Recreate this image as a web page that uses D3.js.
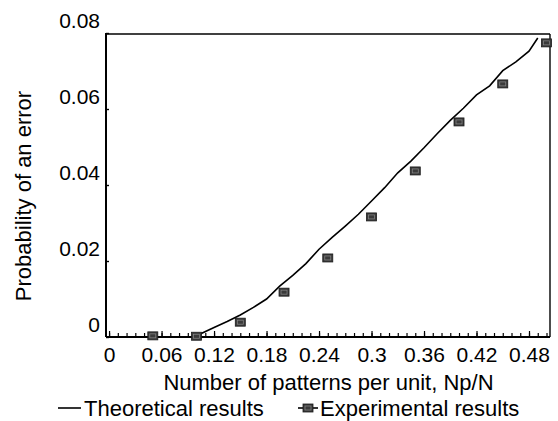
<!DOCTYPE html>
<html>
<head>
<meta charset="utf-8">
<script src="https://cdn.jsdelivr.net/npm/d3@7"></script>
<style>
  html, body { margin: 0; padding: 0; background: #fff; }
  svg { display: block; font-family: "Liberation Sans", Arial, Helvetica, sans-serif; }
</style>
</head>
<body>
<svg id="chart" width="558" height="421"></svg>
<script>
// Theoretical curve (probability of an error vs. Np/N)
const theoryX = [0, 0.05, 0.1, 0.106, 0.12, 0.135, 0.15, 0.165, 0.18, 0.195, 0.21, 0.225, 0.24, 0.255,
  0.27, 0.285, 0.3, 0.315, 0.33, 0.345, 0.36, 0.375, 0.39, 0.405, 0.42, 0.435, 0.45, 0.465, 0.48, 0.49];
const theoryY = [0, 0, 0, 0.0010, 0.0025, 0.0041, 0.0058, 0.0078, 0.0100, 0.0134, 0.0162, 0.0193, 0.0231, 0.0262,
  0.0292, 0.0323, 0.0358, 0.0393, 0.0432, 0.0463, 0.0498, 0.0535, 0.0570, 0.0602, 0.0637, 0.0661, 0.0701, 0.0724, 0.0752, 0.0787];

// Experimental measurements
const expX = [0.05, 0.1, 0.15, 0.2, 0.25, 0.3, 0.35, 0.4, 0.45, 0.5];
const expY = [0.0003, 0.0002, 0.0039, 0.0118, 0.0208, 0.0316, 0.0437, 0.0566, 0.0666, 0.0774];

// Axis ticks
const xTickValues = [0, 0.06, 0.12, 0.18, 0.24, 0.3, 0.36, 0.42, 0.48];
const xTickLabels = ["0", "0.06", "0.12", "0.18", "0.24", "0.3", "0.36", "0.42", "0.48"];
const yTickValues = [0, 0.02, 0.04, 0.06, 0.08];
const yTickLabels = ["0", "0.02", "0.04", "0.06", "0.08"];

const svg = d3.select("#chart");
const plotLeft = 106, plotRight = 550, plotTop = 33, plotBottom = 337;

const x = d3.scaleLinear().domain([-0.0035, 0.504]).range([plotLeft, plotRight]);
const y = d3.scaleLinear().domain([0, 0.08]).range([plotBottom, plotTop]);

// Frame: thinner top and right edges
svg.append("line").attr("x1", plotLeft).attr("x2", plotRight).attr("y1", plotTop + 1).attr("y2", plotTop + 1)
  .attr("stroke", "#000").attr("stroke-width", 1.4);
svg.append("line").attr("x1", plotRight).attr("x2", plotRight).attr("y1", plotTop + 1).attr("y2", plotBottom)
  .attr("stroke", "#000").attr("stroke-width", 1.4);

// Minor x ticks every 0.01, pointing inward
const minorX = d3.range(0, 51).map(i => i / 100);
const gMinor = svg.append("g").attr("transform", `translate(0,${plotBottom})`)
  .call(d3.axisBottom(x).tickValues(minorX).tickSize(-4).tickFormat(""));
gMinor.select(".domain").remove();
gMinor.selectAll(".tick line").attr("stroke", "#000").attr("stroke-width", 1.2);

// Major x ticks with labels
const gx = svg.append("g").attr("transform", `translate(0,${plotBottom})`)
  .call(d3.axisBottom(x).tickValues(xTickValues).tickSize(-6).tickPadding(10)
    .tickFormat((d, i) => xTickLabels[i]));
gx.select(".domain").attr("d", `M${plotLeft},0H${plotRight}`).attr("stroke", "#000").attr("stroke-width", 2);
gx.selectAll(".tick line").attr("stroke", "#000").attr("stroke-width", 1.2);
gx.selectAll(".tick text").attr("font-size", 21).attr("fill", "#000")
  .attr("font-family", "'Liberation Sans', Arial, sans-serif");

// y axis (labels sit slightly above their ticks)
const gy = svg.append("g").attr("transform", `translate(${plotLeft},0)`)
  .call(d3.axisLeft(y).tickValues(yTickValues).tickSize(-3).tickPadding(6)
    .tickFormat((d, i) => yTickLabels[i]));
gy.select(".domain").attr("d", `M0,${plotTop}V${plotBottom}`).attr("stroke", "#000").attr("stroke-width", 2);
gy.selectAll(".tick line").attr("stroke", "#000").attr("stroke-width", 1.4);
gy.selectAll(".tick text").attr("font-size", 21).attr("fill", "#000").attr("dy", "-0.26em")
  .attr("font-family", "'Liberation Sans', Arial, sans-serif");

// Theoretical curve
const line = d3.line().x(d => x(d[0])).y(d => y(d[1]));
svg.append("path")
  .datum(theoryX.map((v, i) => [v, theoryY[i]]))
  .attr("d", line)
  .attr("fill", "none").attr("stroke", "#000").attr("stroke-width", 1.6);

// Experimental markers
function marker(g, cx, cy) {
  g.append("rect").attr("x", cx - 5).attr("y", cy - 4).attr("width", 10).attr("height", 8)
    .attr("fill", "#3a3a3a").attr("stroke", "#1a1a1a").attr("stroke-width", 0.8);
  g.append("rect").attr("x", cx - 3).attr("y", cy - 2).attr("width", 6).attr("height", 4)
    .attr("fill", "none").attr("stroke", "#8a8a8a").attr("stroke-width", 0.7);
}
const gm = svg.append("g");
expX.forEach((v, i) => marker(gm, x(v), y(expY[i])));

// Axis titles
svg.append("text").attr("x", (164 + 493) / 2).attr("y", 390).attr("text-anchor", "middle")
  .attr("font-size", 22).text("Number of patterns per unit, Np/N");
svg.append("text").attr("transform", `translate(31,196) rotate(-90)`).attr("text-anchor", "middle")
  .attr("font-size", 22).text("Probability of an error");

// Legend
const ly = 408;
svg.append("line").attr("x1", 58).attr("x2", 81).attr("y1", ly).attr("y2", ly)
  .attr("stroke", "#000").attr("stroke-width", 1.6);
svg.append("text").attr("x", 84).attr("y", ly + 8).attr("font-size", 22).text("Theoretical results");
svg.append("line").attr("x1", 298).attr("x2", 318).attr("y1", ly).attr("y2", ly)
  .attr("stroke", "#000").attr("stroke-width", 1.6);
marker(svg.append("g"), 308, ly);
svg.append("text").attr("x", 320).attr("y", ly + 8).attr("font-size", 22).text("Experimental results");
</script>
</body>
</html>
